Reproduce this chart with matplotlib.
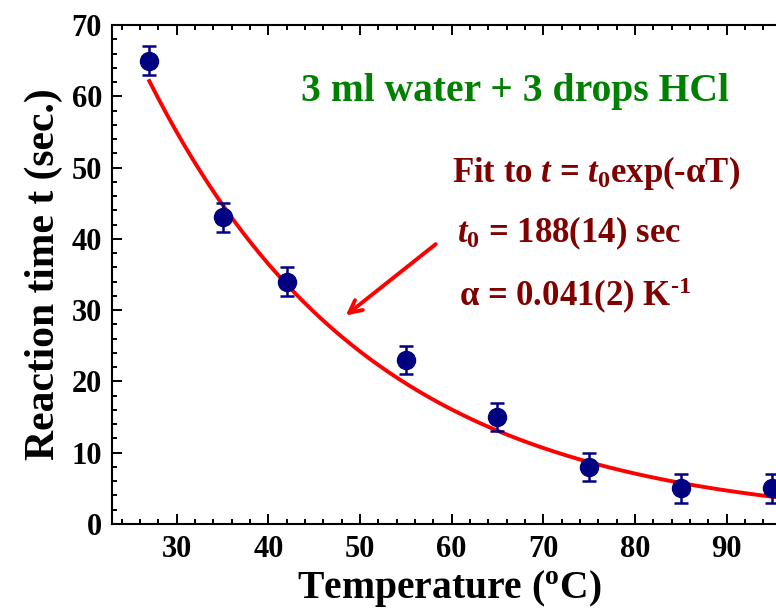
import numpy as np
import matplotlib
matplotlib.use('Agg')
import matplotlib.pyplot as plt
from matplotlib.ticker import MultipleLocator

# measured reaction times
temp_c = [27, 35, 42, 55, 65, 75, 85, 95]
react_t = [65, 43, 34, 23, 15, 8, 5, 5]
react_err = [2, 2, 2, 2, 2, 2, 2, 2]

# fit parameters shown on the chart
t0_fit = 188.0
alpha_fit = 0.041

plt.rcParams['font.family'] = 'Liberation Serif'
plt.rcParams['font.weight'] = 'bold'
plt.rcParams['mathtext.fontset'] = 'custom'
plt.rcParams['mathtext.rm'] = 'Liberation Serif:bold'
plt.rcParams['mathtext.it'] = 'Liberation Serif:bold:italic'
plt.rcParams['mathtext.bf'] = 'Liberation Serif:bold'

fig = plt.figure(figsize=(7.76, 6.11), dpi=100)
ax = fig.add_axes([0.144, 0.1424, 0.869, 0.8167])

T = np.linspace(27, 97, 300)
ax.plot(T, t0_fit * np.exp(-alpha_fit * T), color='red', lw=2.8, zorder=2)

ax.errorbar(temp_c, react_t, yerr=react_err, fmt='o', color='#000080',
            ms=13, elinewidth=1.8, capsize=5, capthick=1.8, zorder=3)

ax.set_xlim(22.9, 96.5)
ax.set_ylim(0, 70)
ax.xaxis.set_major_locator(MultipleLocator(10))
ax.xaxis.set_minor_locator(MultipleLocator(2))
ax.yaxis.set_major_locator(MultipleLocator(10))
ax.yaxis.set_minor_locator(MultipleLocator(2))
ax.tick_params(which='both', direction='in', top=True, right=True, width=1.4, labelsize=22)
ax.tick_params(which='major', length=7)
ax.tick_params(which='minor', length=3.6)
ax.tick_params(axis='x', pad=8)
ax.tick_params(axis='y', pad=7)
for s in ax.spines.values():
    s.set_linewidth(1.5)

ax.set_xlabel('Temperature ($^{\\mathrm{o}}$C)', fontsize=28.5, fontweight='bold', labelpad=3)
ax.set_ylabel('Reaction time t (sec.)', fontsize=30, fontweight='bold', labelpad=6)

ax.text(0.598, 0.866, '3 ml water + 3 drops HCl', transform=ax.transAxes,
        fontsize=28.5, color='green', fontweight='bold', ha='center', va='center')

dark_red = '#800000'
ax.text(0.505, 0.686, 'Fit to $t$ = $t_0$exp(-\u03b1T)', transform=ax.transAxes,
        fontsize=25, color=dark_red, ha='left', va='baseline')
ax.text(0.512, 0.564, '$t_0$ = 188(14) sec', transform=ax.transAxes,
        fontsize=25, color=dark_red, ha='left', va='baseline')
ax.text(0.515, 0.436, '\u03b1 = 0.041(2) K$^{\\text{-1}}$', transform=ax.transAxes,
        fontsize=25, color=dark_red, ha='left', va='baseline')

ax.annotate('', xy=(48.2, 29), xytext=(58.5, 39.5),
            arrowprops=dict(arrowstyle='->,head_length=0.9,head_width=0.45',
                            color='red', lw=2.8))

plt.savefig('out.png', dpi=100)
